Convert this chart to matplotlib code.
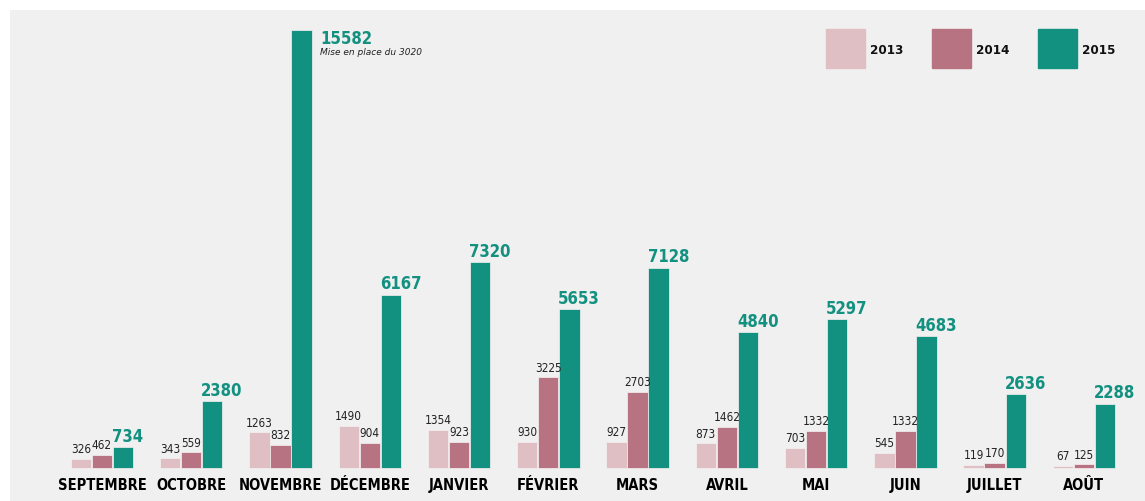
import numpy as np
import matplotlib.pyplot as plt
from matplotlib.patches import Rectangle

months = ['SEPTEMBRE', 'OCTOBRE', 'NOVEMBRE', 'DÉCEMBRE', 'JANVIER', 'FÉVRIER',
          'MARS', 'AVRIL', 'MAI', 'JUIN', 'JUILLET', 'AOÛT']
years = ['2013', '2014', '2015']
v2013 = [326, 343, 1263, 1490, 1354, 930, 927, 873, 703, 545, 119, 67]
v2014 = [462, 559, 832, 904, 923, 3225, 2703, 1462, 1332, 1332, 170, 125]
v2015 = [734, 2380, 15582, 6167, 7320, 5653, 7128, 4840, 5297, 4683, 2636, 2288]

colors = ['#dfbfc4', '#b87383', '#139180']
bg = '#f0f0f0'
W, H = 1145, 501

fig = plt.figure(figsize=(W / 100, H / 100), dpi=100)
fig.patch.set_facecolor('white')
# gray panel starts 10px in from left/top
ax = fig.add_axes([10 / W, 0, 1 - 10 / W, 1 - 10 / H])
ax.set_facecolor(bg)
for s in ax.spines.values():
    s.set_visible(False)
ax.set_xticks([])
ax.set_yticks([])

ax.set_xlim(-1.03, 11.684)
ax.set_ylim(-1174, 16293)

x = np.arange(len(months))
width = 0.228
offsets = [-0.236, 0, 0.236]
small = dict(family='DejaVu Sans', fontstretch='condensed', fontsize=8.5, color='#222222')
big = dict(family='DejaVu Sans', fontstretch='condensed', fontsize=12,
           fontweight='heavy', color=colors[2])

for vals, off, col in zip([v2013, v2014, v2015], offsets, colors):
    ax.bar(x + off, vals, width, color=col, edgecolor='#f5f2f2', linewidth=0.5)

for i in range(len(months)):
    for vals, off in zip([v2013, v2014], offsets[:2]):
        ax.annotate(str(vals[i]), (x[i] + off, vals[i]), xytext=(0, 2),
                    textcoords='offset points', ha='center', va='bottom', **small)
    if i == 2:
        # the big November bar gets its label beside it, plus a note
        ax.annotate(str(v2015[i]), (x[i] + offsets[2] + width / 2, v2015[i]),
                    xytext=(6, 0), textcoords='offset points', ha='left', va='top', **big)
        ax.annotate('Mise en place du 3020', (x[i] + offsets[2] + width / 2, v2015[i]),
                    xytext=(6, -13), textcoords='offset points', ha='left', va='top',
                    fontsize=6.5, fontstyle='italic', color='#222222')
    else:
        ax.annotate(str(v2015[i]), (x[i] + offsets[2] - width / 2 - 0.01, v2015[i]),
                    xytext=(0, 1), textcoords='offset points', ha='left', va='bottom', **big)
    ax.text(x[i], -620, months[i], ha='center', va='center', fontsize=10.5,
            fontweight='heavy', color='black', family='DejaVu Sans', fontstretch='condensed')

# legend boxes
for j, (yr, col) in enumerate(zip(years, colors)):
    left = 826 + j * 106
    fig.add_artist(Rectangle((left / W, 1 - 68 / H), 39 / W, 39 / H,
                             transform=fig.transFigure, color=col))
    fig.text((left + 44) / W, 1 - 50 / H, yr, ha='left', va='center', fontsize=9.5,
             fontweight='heavy', color='#111111', family='DejaVu Sans', fontstretch='condensed')

fig.savefig('out.png', dpi=100, facecolor=fig.get_facecolor())
